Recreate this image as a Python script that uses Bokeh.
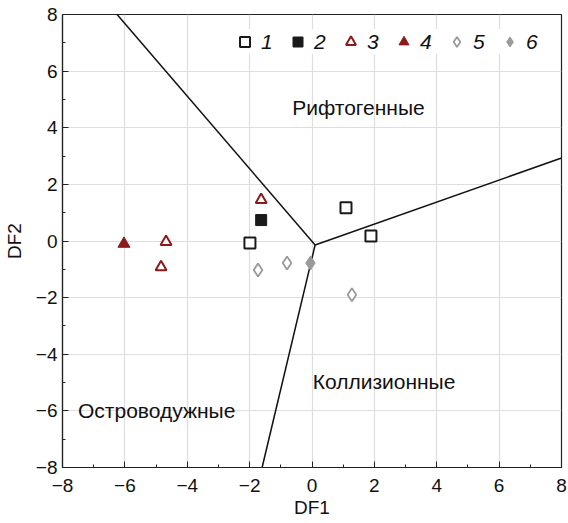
from bokeh.plotting import figure
from bokeh.models import Legend, LegendItem, FixedTicker
from bokeh.core.properties import value
from bokeh.embed import file_html
from bokeh.resources import INLINE

# Discriminant function scores per group
g1_x = [-1.99, 1.09, 1.89]
g1_y = [-0.07, 1.17, 0.18]
g2_x = [-1.63]
g2_y = [0.74]
g3_x = [-1.63, -4.68, -4.84]
g3_y = [1.45, -0.03, -0.92]
g4_x = [-6.03]
g4_y = [-0.10]
g5_x = [-1.73, -0.80, 1.28]
g5_y = [-1.02, -0.78, -1.90]
g6_x = [-0.05]
g6_y = [-0.78]

# Field boundaries: common junction and outer ends
junction = (0.10, -0.14)
bound_x = [-6.25, 8.0, -1.60]
bound_y = [8.0, 2.93, -8.0]

# Field names
field_names = ["Рифтогенные", "Коллизионные", "Островодужные"]
field_x = [1.49, 2.31, -4.98]
field_y = [4.70, -4.98, -6.00]

ticks = [-8, -6, -4, -2, 0, 2, 4, 6, 8]
group_labels = ["1", "2", "3", "4", "5", "6"]

FONT = "Liberation Sans"
RED = "#8b1a1a"
GRAY = "#9a9a9a"
BLACK = "#1a1a1a"

p = figure(width=568, height=523, x_range=(-8, 8), y_range=(-8, 8),
           output_backend="svg", toolbar_location=None,
           min_border_left=62, min_border_right=7,
           min_border_top=14, min_border_bottom=56)

p.outline_line_color = "#222222"
p.outline_line_width = 1.2
p.background_fill_color = "white"
p.border_fill_color = "white"

for ax in (p.xaxis, p.yaxis):
    ax.ticker = FixedTicker(ticks=ticks, minor_ticks=list(range(-8, 9)))
    ax.major_tick_in = 6
    ax.major_tick_out = 0
    ax.minor_tick_in = 3
    ax.minor_tick_out = 0
    ax.axis_line_color = "#222222"
    ax.axis_line_width = 1.2
    ax.major_tick_line_color = "#222222"
    ax.minor_tick_line_color = "#222222"
    ax.major_label_text_font = FONT
    ax.major_label_text_font_size = "19px"
    ax.major_label_text_color = "#111111"
    ax.axis_label_text_font = FONT
    ax.axis_label_text_font_size = "19px"
    ax.axis_label_text_font_style = "normal"
    ax.axis_label_text_color = "#111111"

p.xaxis.axis_label = "DF1"
p.yaxis.axis_label = "DF2"
p.xaxis.major_label_overrides = {t: str(t).replace("-", "\u2212") for t in ticks}
p.yaxis.major_label_overrides = {t: str(t).replace("-", "\u2212") for t in ticks}
p.xaxis.major_label_standoff = 11
p.xaxis.axis_label_standoff = 2
p.yaxis.major_label_standoff = 5
p.yaxis.axis_label_standoff = 8

p.grid.grid_line_color = "#dedede"
p.grid.grid_line_width = 1.2
p.xgrid.ticker = FixedTicker(ticks=ticks)
p.ygrid.ticker = FixedTicker(ticks=ticks)

# Boundaries
n = len(bound_x)
p.segment(x0=[junction[0]] * n, y0=[junction[1]] * n, x1=bound_x, y1=bound_y,
          line_color="#111111", line_width=1.5)

# Field labels
p.text(x=field_x, y=field_y, text=field_names, text_font=value(FONT),
       text_font_size="21px", text_color="#111111",
       text_align="center", text_baseline="middle")

# Groups
r1 = p.scatter(g1_x, g1_y, marker="square", size=11, fill_color="white",
               line_color=BLACK, line_width=2)
r2 = p.scatter(g2_x, g2_y, marker="square", size=11, fill_color=BLACK,
               line_color=BLACK, line_width=1)
r3 = p.scatter(g3_x, g3_y, marker="triangle", size=11, fill_color="white",
               line_color=RED, line_width=2)
r4 = p.scatter(g4_x, g4_y, marker="triangle", size=12, fill_color=RED,
               line_color=RED, line_width=1)
r5 = p.scatter(g5_x, g5_y, marker="diamond", size=13, fill_color="white",
               line_color=GRAY, line_width=1.8)
r6 = p.scatter(g6_x, g6_y, marker="diamond", size=14, fill_color=GRAY,
               line_color=GRAY, line_width=1)

items = [LegendItem(label=lab, renderers=[r])
         for lab, r in zip(group_labels, [r1, r2, r3, r4, r5, r6])]
legend = Legend(items=items, orientation="horizontal", location="top_right",
                label_text_font=FONT, label_text_font_size="21px",
                label_text_font_style="italic", label_text_color="#111111",
                glyph_width=25, glyph_height=25, label_standoff=4, spacing=4,
                padding=4, margin=15,
                background_fill_color="white", background_fill_alpha=1.0,
                border_line_color=None)
p.add_layout(legend)

open("out.html", "w").write(file_html(p, INLINE))
